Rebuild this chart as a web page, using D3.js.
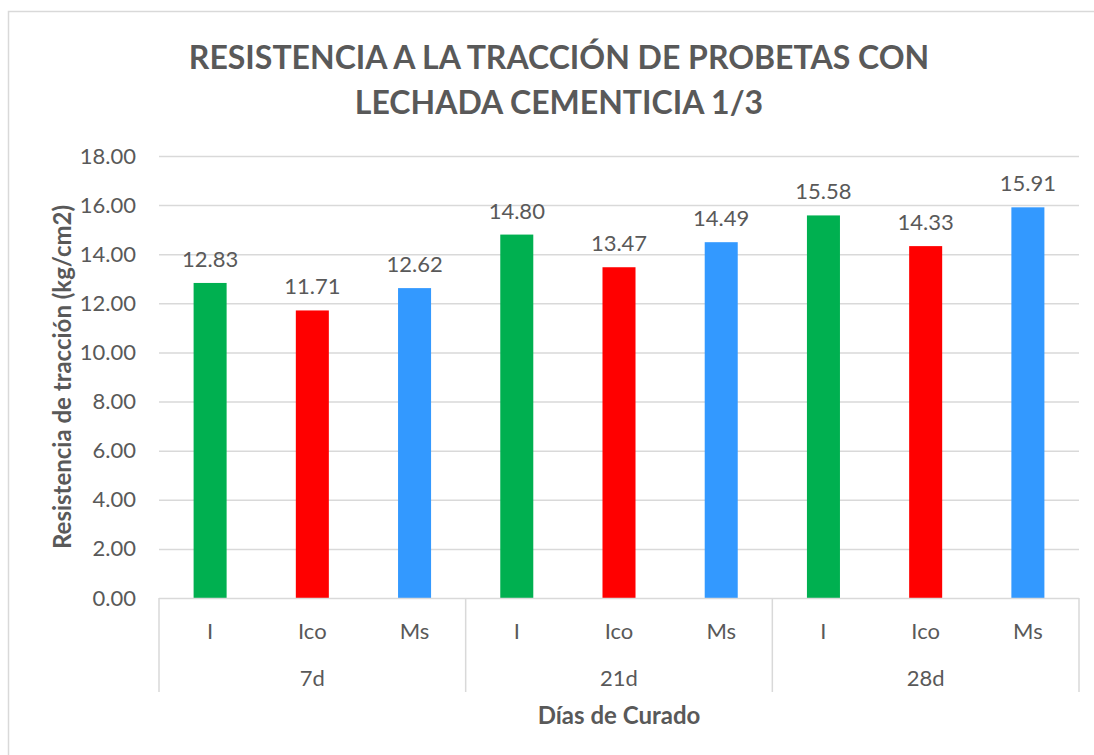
<!DOCTYPE html>
<html>
<head>
<meta charset="utf-8">
<script src="https://cdn.jsdelivr.net/npm/d3@7"></script>
<style>
  body { margin: 0; background: #fff; }
  text { font-family: Lato, "Open Sans", sans-serif; fill: #595959; }
</style>
</head>
<body>
<div class="chart"></div>
<script>
// data
const groups = ["7d", "21d", "28d"];
const types = ["I", "Ico", "Ms"];
const valuesI = [12.83, 14.80, 15.58];
const valuesIco = [11.71, 13.47, 14.33];
const valuesMs = [12.62, 14.49, 15.91];
const yTicks = [0, 2, 4, 6, 8, 10, 12, 14, 16, 18];
const typeColors = ["#00b050", "#ff0000", "#3399ff"];

const titleLines = ["RESISTENCIA A LA TRACCIÓN DE PROBETAS CON", "LECHADA CEMENTICIA 1/3"];
const yTitle = "Resistencia de tracción (kg/cm2)";
const xTitle = "Días de Curado";

const width = 1094, height = 755;
const margin = {top: 156, right: 15, bottom: 157, left: 159};
const plotW = width - margin.left - margin.right,
  plotH = height - margin.top - margin.bottom;

const svg = d3.select(".chart")
  .append("svg")
    .attr("width", width)
    .attr("height", height);

// chart frame
svg.append("rect")
  .attr("x", 8.5)
  .attr("y", 11.5)
  .attr("width", width + 20)
  .attr("height", height + 20)
  .attr("fill", "none")
  .attr("stroke", "#d9d9d9")
  .attr("stroke-width", 1.5);

svg.append("g")
  .selectAll("text")
  .data(titleLines)
  .join("text")
    .attr("x", 559)
    .attr("y", (d, i) => 69 + i * 45)
    .attr("text-anchor", "middle")
    .style("font-size", "32px")
    .style("font-weight", "bold")
    .text(d => d);

const g = svg.append("g")
  .attr("transform", "translate(" + margin.left + "," + margin.top + ")");

const y = d3.scaleLinear()
  .domain([0, 18])
  .range([plotH, 0]);

// gridlines
g.append("g")
  .selectAll("line")
  .data(yTicks.slice(1))
  .join("line")
    .attr("x1", 0)
    .attr("x2", plotW)
    .attr("y1", d => y(d) + 0.5)
    .attr("y2", d => y(d) + 0.5)
    .attr("stroke", "#d9d9d9")
    .attr("stroke-width", 1.5);

const yAxis = g.append("g")
  .call(d3.axisLeft(y).tickValues(yTicks).tickFormat(d3.format(".2f")).tickSize(0).tickPadding(23));
yAxis.select(".domain").remove();
yAxis.selectAll("text")
  .style("font-size", "22px")
  .style("font-family", "Lato, sans-serif")
  .attr("fill", "#595959");

const x0 = d3.scaleBand()
  .domain(groups)
  .range([0, plotW]);

const x1 = d3.scaleBand()
  .domain(types)
  .range([0, x0.bandwidth()])
  .paddingInner(0.677)
  .paddingOuter(0.3385);

const seriesValues = [valuesI, valuesIco, valuesMs];
const rows = [];
groups.forEach((grp, gi) => {
  types.forEach((t, ti) => {
    rows.push({group: grp, type: t, value: seriesValues[ti][gi], color: typeColors[ti]});
  });
});

g.append("g")
  .selectAll("rect")
  .data(rows)
  .join("rect")
    .attr("x", d => x0(d.group) + x1(d.type))
    .attr("y", d => y(d.value))
    .attr("width", x1.bandwidth())
    .attr("height", d => plotH - y(d.value))
    .attr("fill", d => d.color);

g.append("g")
  .selectAll("text")
  .data(rows)
  .join("text")
    .attr("x", d => x0(d.group) + x1(d.type) + x1.bandwidth() / 2)
    .attr("y", d => y(d.value) - 16)
    .attr("text-anchor", "middle")
    .style("font-size", "22px")
    .text(d => d3.format(".2f")(d.value));

// category axis line
g.append("line")
  .attr("x1", 0)
  .attr("x2", plotW)
  .attr("y1", plotH + 0.5)
  .attr("y2", plotH + 0.5)
  .attr("stroke", "#d9d9d9")
  .attr("stroke-width", 1.5);

// group separators
g.append("g")
  .selectAll("line")
  .data(groups.map(d => x0(d)).concat([plotW]))
  .join("line")
    .attr("x1", d => d)
    .attr("x2", d => d)
    .attr("y1", plotH)
    .attr("y2", plotH + 94)
    .attr("stroke", "#d9d9d9")
    .attr("stroke-width", 1.5);

g.append("g")
  .selectAll("text")
  .data(rows)
  .join("text")
    .attr("x", d => x0(d.group) + x1(d.type) + x1.bandwidth() / 2)
    .attr("y", plotH + 41)
    .attr("text-anchor", "middle")
    .style("font-size", "22px")
    .text(d => d.type);

g.append("g")
  .selectAll("text")
  .data(groups)
  .join("text")
    .attr("x", d => x0(d) + x0.bandwidth() / 2)
    .attr("y", plotH + 88)
    .attr("text-anchor", "middle")
    .style("font-size", "22px")
    .text(d => d);

svg.append("text")
  .attr("x", margin.left + plotW / 2)
  .attr("y", 724)
  .attr("text-anchor", "middle")
  .style("font-size", "24px")
  .style("font-weight", "bold")
  .text(xTitle);

svg.append("text")
  .attr("transform", "translate(71," + (margin.top + plotH / 2) + ") rotate(-90)")
  .attr("text-anchor", "middle")
  .style("font-size", "24px")
  .style("font-weight", "bold")
  .text(yTitle);
</script>
</body>
</html>
